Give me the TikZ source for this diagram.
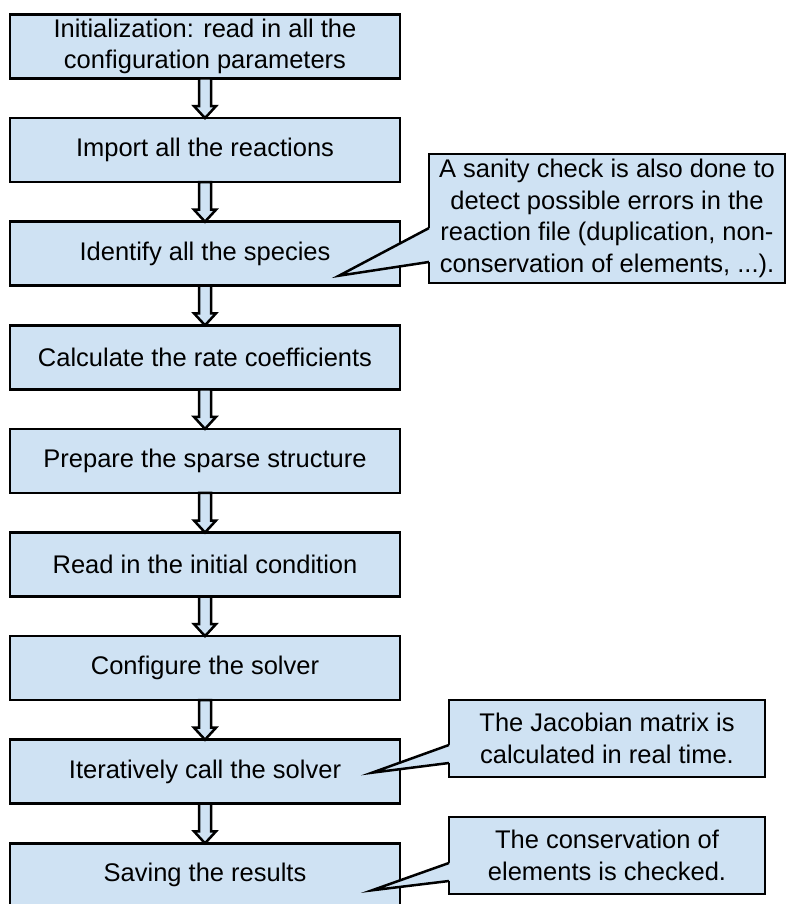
\documentclass[tikz,border=0pt]{standalone}
\usepackage{fontspec}
\setmainfont{Liberation Sans}
\usepackage{tikz}
\usetikzlibrary{positioning,calc}

\definecolor{boxblue}{RGB}{207,226,243}

\tikzset{
  stepbox/.style={draw, line width=2.5pt, fill=boxblue, minimum width=390pt,
    minimum height=64pt, inner sep=0pt, outer sep=0pt, align=center,
    font=\fontsize{25.5}{31.5}\selectfont},
  notebox/.style={draw, line width=2.5pt, fill=boxblue, inner sep=0pt,
    outer sep=0pt, align=center, font=\fontsize{25.5}{31.5}\selectfont},
  hollowarrow/.style={draw, line width=2.5pt, fill=boxblue, line join=miter},
  pointerline/.style={draw, line width=2.5pt, line join=miter}
}

% hollow block arrow from the bottom of #1 to the top of #2
\newcommand{\flowarrow}[2]{%
  \draw[hollowarrow] ([xshift=-6pt]#1.south) -- ([xshift=-6pt,yshift=12pt]#2.north)
    -- ++(-5pt,0) -- (#2.north) -- ++(11pt,12pt) -- ++(-5pt,0)
    -- ([xshift=6pt]#1.south) -- cycle;}

% callout pointer from the west side of note #1 to coordinate #4
\newcommand{\notepointer}[4]{%
  \fill[boxblue] ($(#1.north west)!#2!(#1.south west)$) -- (#4)
    -- ($(#1.north west)!#3!(#1.south west)$) -- ++(4pt,0)
    -- ($(#1.north west)!#2!(#1.south west)+(4pt,0)$) -- cycle;
  \draw[pointerline] ($(#1.north west)!#2!(#1.south west)$) -- (#4)
    -- ($(#1.north west)!#3!(#1.south west)$);}

\begin{document}
\begin{tikzpicture}[x=1pt, y=1pt, node distance=39.6pt]
  \useasboundingbox (0,0) rectangle (790,-904);
  \clip (0,0) rectangle (790,-904);

  % main flow
  \node[stepbox] (init) at (205,-46.5) {Initialization: read in all the\\configuration parameters};
  \node[stepbox, below=of init] (import) {Import all the reactions};
  \node[stepbox, below=of import] (species) {Identify all the species};
  \node[stepbox, below=of species] (rates) {Calculate the rate coefficients};
  \node[stepbox, below=of rates] (sparse) {Prepare the sparse structure};
  \node[stepbox, below=of sparse] (initcond) {Read in the initial condition};
  \node[stepbox, below=of initcond] (config) {Configure the solver};
  \node[stepbox, below=of config] (iterate) {Iteratively call the solver};
  \node[stepbox, below=of iterate] (save) {Saving the results};

  \foreach \a/\b in {init/import, import/species, species/rates, rates/sparse,
      sparse/initcond, initcond/config, config/iterate, iterate/save}
    \flowarrow{\a}{\b};

  % notes
  \node[notebox, minimum width=356pt, minimum height=129pt] (sanity) at (607,-218.5)
    {A sanity check is also done to\\detect possible errors in the\\reaction file (duplication, non-\\conservation of elements, ...).};
  \coordinate (sanitytip) at ([xshift=-61pt,yshift=10pt]species.south east);
  \notepointer{sanity}{0.574}{0.837}{sanitytip}

  \node[notebox, minimum width=316pt, minimum height=77pt] (jacobian) at (607,-738.5)
    {The Jacobian matrix is\\calculated in real time.};
  \coordinate (jacobiantip) at ([xshift=-28pt,yshift=-1pt]iterate.east);
  \notepointer{jacobian}{0.584}{0.818}{jacobiantip}

  \node[notebox, minimum width=316pt, minimum height=77pt] (conserve) at (607,-855.5)
    {The conservation of\\elements is checked.};
  \coordinate (conservetip) at ([xshift=-28pt,yshift=-15pt]save.east);
  \notepointer{conserve}{0.597}{0.831}{conservetip}
\end{tikzpicture}
\end{document}
